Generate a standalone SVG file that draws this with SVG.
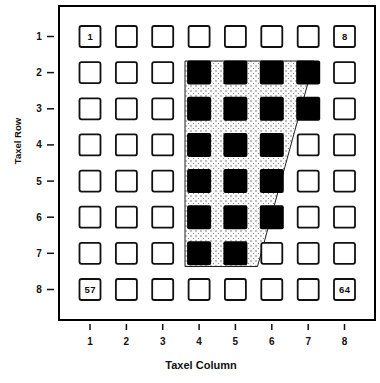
<svg xmlns="http://www.w3.org/2000/svg" width="380" height="383" viewBox="0 0 380 383">
<defs>
<pattern id="stip" width="5" height="5" patternUnits="userSpaceOnUse">
<rect width="5" height="5" fill="#fafafa"/>
<circle cx="1" cy="1" r="0.65" fill="#555"/>
<circle cx="3.5" cy="3.5" r="0.6" fill="#777"/>
</pattern>
<style>
.e{fill:#fff;stroke:#111;stroke-width:1.8}
.b{fill:#000}
.t{font-family:"Liberation Sans",Arial,sans-serif;font-weight:bold;fill:#111}
.n{font-size:10px;text-anchor:middle}
.s{font-size:9.5px;text-anchor:middle;letter-spacing:0.5px}
.k{stroke:#111;stroke-width:1.5}
</style>
</defs>
<rect width="380" height="383" fill="#fff"/>
<rect x="59" y="6" width="316" height="314" fill="none" stroke="#000" stroke-width="2"/>
<g id="shade">
<polygon points="185,61 314,61 257.5,266.5 185,266.5" fill="url(#stip)" stroke="#222" stroke-width="1"/>
</g>
<g id="ticks">
<g class="k">
<line x1="47" y1="36.5" x2="54" y2="36.5"/>
<line x1="47" y1="72.6" x2="54" y2="72.6"/>
<line x1="47" y1="108.8" x2="54" y2="108.8"/>
<line x1="47" y1="144.9" x2="54" y2="144.9"/>
<line x1="47" y1="181.1" x2="54" y2="181.1"/>
<line x1="47" y1="217.2" x2="54" y2="217.2"/>
<line x1="47" y1="253.3" x2="54" y2="253.3"/>
<line x1="47" y1="289.5" x2="54" y2="289.5"/>
</g>
<g class="k" stroke-width="1">
<line x1="90" y1="324" x2="90" y2="330"/>
<line x1="126.4" y1="324" x2="126.4" y2="330"/>
<line x1="162.7" y1="324" x2="162.7" y2="330"/>
<line x1="199.1" y1="324" x2="199.1" y2="330"/>
<line x1="235.4" y1="324" x2="235.4" y2="330"/>
<line x1="271.8" y1="324" x2="271.8" y2="330"/>
<line x1="308.2" y1="324" x2="308.2" y2="330"/>
<line x1="344.5" y1="324" x2="344.5" y2="330"/>
</g>
</g>
<g id="rowlabels" class="t n">
<text x="39" y="40">1</text>
<text x="39" y="76">2</text>
<text x="39" y="112">3</text>
<text x="39" y="148">4</text>
<text x="39" y="185">5</text>
<text x="39" y="221">6</text>
<text x="39" y="257">7</text>
<text x="39" y="293">8</text>
</g>
<g id="collabels" class="t n">
<text x="90" y="345">1</text>
<text x="126.4" y="345">2</text>
<text x="162.7" y="345">3</text>
<text x="199.1" y="345">4</text>
<text x="235.4" y="345">5</text>
<text x="271.8" y="345">6</text>
<text x="308.2" y="345">7</text>
<text x="344.5" y="345">8</text>
</g>
<text id="xlabel" class="t" x="201" y="369" font-size="11" text-anchor="middle">Taxel Column</text>
<text id="ylabel" class="t" transform="translate(21,141) rotate(-90)" font-size="9.5" text-anchor="middle">Taxel Row</text>
<g id="taxels">
<!-- row 1 -->
<rect class="e" x="79.5" y="26" width="21" height="21" rx="2"/>
<rect class="e" x="115.9" y="26" width="21" height="21" rx="2"/>
<rect class="e" x="152.2" y="26" width="21" height="21" rx="2"/>
<rect class="e" x="188.6" y="26" width="21" height="21" rx="2"/>
<rect class="e" x="224.9" y="26" width="21" height="21" rx="2"/>
<rect class="e" x="261.3" y="26" width="21" height="21" rx="2"/>
<rect class="e" x="297.7" y="26" width="21" height="21" rx="2"/>
<rect class="e" x="334" y="26" width="21" height="21" rx="2"/>
<!-- row 2 -->
<rect class="e" x="79.5" y="62.1" width="21" height="21" rx="2"/>
<rect class="e" x="115.9" y="62.1" width="21" height="21" rx="2"/>
<rect class="e" x="152.2" y="62.1" width="21" height="21" rx="2"/>
<rect class="b" x="187.1" y="60.6" width="24" height="24" rx="2"/>
<rect class="b" x="223.4" y="60.6" width="24" height="24" rx="2"/>
<rect class="b" x="259.8" y="60.6" width="24" height="24" rx="2"/>
<rect class="b" x="296.2" y="60.6" width="24" height="24" rx="2"/>
<rect class="e" x="334" y="62.1" width="21" height="21" rx="2"/>
<!-- row 3 -->
<rect class="e" x="79.5" y="98.3" width="21" height="21" rx="2"/>
<rect class="e" x="115.9" y="98.3" width="21" height="21" rx="2"/>
<rect class="e" x="152.2" y="98.3" width="21" height="21" rx="2"/>
<rect class="b" x="187.1" y="96.8" width="24" height="24" rx="2"/>
<rect class="b" x="223.4" y="96.8" width="24" height="24" rx="2"/>
<rect class="b" x="259.8" y="96.8" width="24" height="24" rx="2"/>
<rect class="b" x="296.2" y="96.8" width="24" height="24" rx="2"/>
<rect class="e" x="334" y="98.3" width="21" height="21" rx="2"/>
<!-- row 4 -->
<rect class="e" x="79.5" y="134.4" width="21" height="21" rx="2"/>
<rect class="e" x="115.9" y="134.4" width="21" height="21" rx="2"/>
<rect class="e" x="152.2" y="134.4" width="21" height="21" rx="2"/>
<rect class="b" x="187.1" y="132.9" width="24" height="24" rx="2"/>
<rect class="b" x="223.4" y="132.9" width="24" height="24" rx="2"/>
<rect class="b" x="259.8" y="132.9" width="24" height="24" rx="2"/>
<rect class="e" x="297.7" y="134.4" width="21" height="21" rx="2"/>
<rect class="e" x="334" y="134.4" width="21" height="21" rx="2"/>
<!-- row 5 -->
<rect class="e" x="79.5" y="170.6" width="21" height="21" rx="2"/>
<rect class="e" x="115.9" y="170.6" width="21" height="21" rx="2"/>
<rect class="e" x="152.2" y="170.6" width="21" height="21" rx="2"/>
<rect class="b" x="187.1" y="169.1" width="24" height="24" rx="2"/>
<rect class="b" x="223.4" y="169.1" width="24" height="24" rx="2"/>
<rect class="b" x="259.8" y="169.1" width="24" height="24" rx="2"/>
<rect class="e" x="297.7" y="170.6" width="21" height="21" rx="2"/>
<rect class="e" x="334" y="170.6" width="21" height="21" rx="2"/>
<!-- row 6 -->
<rect class="e" x="79.5" y="206.7" width="21" height="21" rx="2"/>
<rect class="e" x="115.9" y="206.7" width="21" height="21" rx="2"/>
<rect class="e" x="152.2" y="206.7" width="21" height="21" rx="2"/>
<rect class="b" x="187.1" y="205.2" width="24" height="24" rx="2"/>
<rect class="b" x="223.4" y="205.2" width="24" height="24" rx="2"/>
<rect class="b" x="259.8" y="205.2" width="24" height="24" rx="2"/>
<rect class="e" x="297.7" y="206.7" width="21" height="21" rx="2"/>
<rect class="e" x="334" y="206.7" width="21" height="21" rx="2"/>
<!-- row 7 -->
<rect class="e" x="79.5" y="242.8" width="21" height="21" rx="2"/>
<rect class="e" x="115.9" y="242.8" width="21" height="21" rx="2"/>
<rect class="e" x="152.2" y="242.8" width="21" height="21" rx="2"/>
<rect class="b" x="187.1" y="241.3" width="24" height="24" rx="2"/>
<rect class="b" x="223.4" y="241.3" width="24" height="24" rx="2"/>
<rect class="e" x="261.3" y="242.8" width="21" height="21" rx="2"/>
<rect class="e" x="297.7" y="242.8" width="21" height="21" rx="2"/>
<rect class="e" x="334" y="242.8" width="21" height="21" rx="2"/>
<!-- row 8 -->
<rect class="e" x="79.5" y="279" width="21" height="21" rx="2"/>
<rect class="e" x="115.9" y="279" width="21" height="21" rx="2"/>
<rect class="e" x="152.2" y="279" width="21" height="21" rx="2"/>
<rect class="e" x="188.6" y="279" width="21" height="21" rx="2"/>
<rect class="e" x="224.9" y="279" width="21" height="21" rx="2"/>
<rect class="e" x="261.3" y="279" width="21" height="21" rx="2"/>
<rect class="e" x="297.7" y="279" width="21" height="21" rx="2"/>
<rect class="e" x="334" y="279" width="21" height="21" rx="2"/>
</g>
<g id="taxelnums" class="t s">
<text x="90.3" y="40">1</text>
<text x="344.8" y="40">8</text>
<text x="90.3" y="293">57</text>
<text x="344.8" y="293">64</text>
</g>
</svg>
